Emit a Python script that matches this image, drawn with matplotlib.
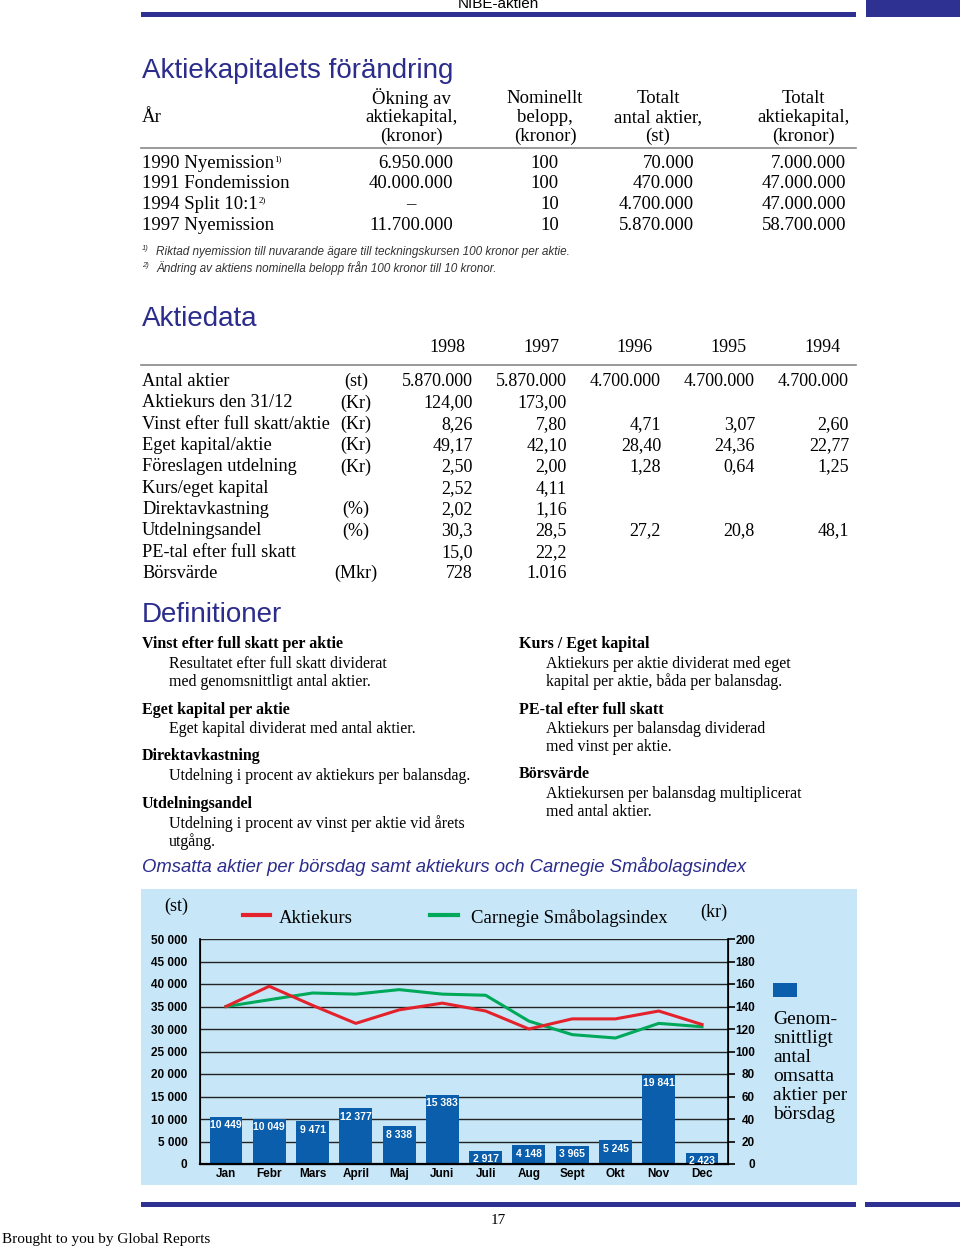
import matplotlib
matplotlib.use("Agg")
import matplotlib.pyplot as plt
from matplotlib.patches import Rectangle

W, H = 960, 1246

# --- data ---------------------------------------------------------------
kap_header = ["År", "Ökning av\naktiekapital,\n(kronor)", "Nominellt\nbelopp,\n(kronor)",
              "Totalt\nantal aktier,\n(st)", "Totalt\naktiekapital,\n(kronor)"]
kap_event = ["1990 Nyemission", "1991 Fondemission", "1994 Split 10:1", "1997 Nyemission"]
kap_note = ["1)", "", "2)", ""]
kap_okning = ["6.950.000", "40.000.000", "–", "11.700.000"]
kap_nominellt = ["100", "100", "10", "10"]
kap_antal = ["70.000", "470.000", "4.700.000", "5.870.000"]
kap_total = ["7.000.000", "47.000.000", "47.000.000", "58.700.000"]
footnotes = ["Riktad nyemission till nuvarande ägare till teckningskursen 100 kronor per aktie.",
             "Ändring av aktiens nominella belopp från 100 kronor till 10 kronor."]

years = ["1998", "1997", "1996", "1995", "1994"]
ad_labels = ["Antal aktier", "Aktiekurs den 31/12", "Vinst efter full skatt/aktie",
             "Eget kapital/aktie", "Föreslagen utdelning", "Kurs/eget kapital",
             "Direktavkastning", "Utdelningsandel", "PE-tal efter full skatt", "Börsvärde"]
ad_units = ["(st)", "(Kr)", "(Kr)", "(Kr)", "(Kr)", "", "(%)", "(%)", "", "(Mkr)"]
ad_values = [
    ["5.870.000", "5.870.000", "4.700.000", "4.700.000", "4.700.000"],
    ["124,00", "173,00", "", "", ""],
    ["8,26", "7,80", "4,71", "3,07", "2,60"],
    ["49,17", "42,10", "28,40", "24,36", "22,77"],
    ["2,50", "2,00", "1,28", "0,64", "1,25"],
    ["2,52", "4,11", "", "", ""],
    ["2,02", "1,16", "", "", ""],
    ["30,3", "28,5", "27,2", "20,8", "48,1"],
    ["15,0", "22,2", "", "", ""],
    ["728", "1.016", "", "", ""],
]

def_left = [("Vinst efter full skatt per aktie", ["Resultatet efter full skatt dividerat",
                                                  "med genomsnittligt antal aktier."]),
            ("Eget kapital per aktie", ["Eget kapital dividerat med antal aktier."]),
            ("Direktavkastning", ["Utdelning i procent av aktiekurs per balansdag."]),
            ("Utdelningsandel", ["Utdelning i procent av vinst per aktie vid årets", "utgång."])]
def_right = [("Kurs / Eget kapital", ["Aktiekurs per aktie dividerat med eget",
                                      "kapital per aktie, båda per balansdag."]),
             ("PE-tal efter full skatt", ["Aktiekurs per balansdag dividerad",
                                          "med vinst per aktie."]),
             ("Börsvärde", ["Aktiekursen per balansdag multiplicerat", "med antal aktier."])]

months = ["Jan", "Febr", "Mars", "April", "Maj", "Juni", "Juli", "Aug", "Sept", "Okt", "Nov", "Dec"]
omsatta = [10449, 10049, 9471, 12377, 8338, 15383, 2917, 4148, 3965, 5245, 19841, 2423]
aktiekurs = [140, 158, 141, 125, 137, 143, 136, 120, 129, 129, 136, 124]
carnegie = [140, 146, 152, 151, 155, 151, 150, 127, 115, 112, 125, 122]

NAVY = "#2e3192"
HEAD = "#2b2c8c"
PANEL = "#c7e7f9"
BAR = "#0a5eab"
RED = "#e3222b"
GREEN = "#00a859"
SERIF = "Liberation Serif"
SANS = "Liberation Sans"

fig = plt.figure(figsize=(W / 100, H / 100), dpi=100)
renderer = fig.canvas.get_renderer()


def txt(x, y, s, size=13, ha="left", va="center", family=SERIF, **kw):
    # x, y in pixels from the top-left corner of the page
    return fig.text(x / W, 1 - (y + 1.5) / H, s, fontsize=size, ha=ha, va=va, family=family, **kw)


def hline(x0, x1, y, lw=1.0, color="#888888"):
    fig.add_artist(plt.Line2D([x0 / W, x1 / W], [1 - y / H, 1 - y / H], lw=lw, color=color))


def rect(x0, y0, x1, y1, color):
    fig.add_artist(Rectangle((x0 / W, 1 - y1 / H), (x1 - x0) / W, (y1 - y0) / H,
                             facecolor=color, edgecolor="none", zorder=0))


# page frame
rect(141, 12, 856, 17, NAVY)
rect(866, 0, 960, 17, NAVY)
txt(498, 2, "NIBE-aktien", size=11, ha="center", family=SANS)
rect(141, 1202, 856, 1207, NAVY)
rect(865, 1202, 960, 1207, NAVY)
txt(498, 1219, "17", size=11, ha="center")
txt(2, 1238, "Brought to you by Global Reports", size=11)

# --- Aktiekapitalets förändring -----------------------------------------
txt(142, 70, "Aktiekapitalets förändring", size=20, family=SANS, color=HEAD)
txt(142, 116, kap_header[0], size=13.5)
for cx, h in zip([411, 545, 658, 803], kap_header[1:]):
    for k, line in enumerate(h.split("\n")):
        txt(cx, 97 + 19 * k, line, size=13.5, ha="center")
hline(141, 856, 148, lw=1.2)
for i in range(len(kap_event)):
    y = 162 + 20.5 * i
    t = txt(142, y, kap_event[i], size=13.5)
    if kap_note[i]:
        x_end = t.get_window_extent(renderer).x1
        txt(x_end + 0.5, y - 4, kap_note[i], size=6.5)
    if kap_okning[i] == "–":
        txt(411, y, kap_okning[i], size=13.5, ha="center")
    else:
        txt(453, y, kap_okning[i], size=13.5, ha="right")
    txt(559, y, kap_nominellt[i], size=13.5, ha="right")
    txt(694, y, kap_antal[i], size=13.5, ha="right")
    txt(846, y, kap_total[i], size=13.5, ha="right")
for k, note in enumerate(footnotes):
    y = 250 + 17 * k
    txt(142, y - 3, f"{k + 1})", size=5.5, style="italic", family=SANS, color="#333333")
    txt(156, y, note, size=8.5, style="italic", family=SANS, color="#333333")

# --- Aktiedata ----------------------------------------------------------
txt(142, 318, "Aktiedata", size=20, family=SANS, color=HEAD)
for j, yr in enumerate(years):
    txt(465 + 94 * j, 346, yr, size=13, ha="right")
hline(141, 856, 365, lw=1.2)
for i, lab in enumerate(ad_labels):
    y = 380 + 21.35 * i
    txt(142, y, lab, size=13.2)
    txt(356, y, ad_units[i], size=13, ha="center")
    for j, v in enumerate(ad_values[i]):
        txt(473 + 94 * j, y, v, size=13, ha="right")

# --- Definitioner -------------------------------------------------------
txt(142, 613, "Definitioner", size=20, family=SANS, color=HEAD)


def defs(x, y, items, gaps):
    for (head, body), gap in zip(items, gaps):
        txt(x, y, head, size=11.5, weight="bold")
        for k, line in enumerate(body):
            txt(x + 27, y + 19.5 + 18 * k, line, size=11.5)
        y += gap


defs(142, 643, def_left, [65, 47, 48, 0])
defs(519, 643, def_right, [65, 65, 0])

txt(142, 865, "Omsatta aktier per börsdag samt aktiekurs och Carnegie Småbolagsindex",
    size=13.3, style="italic", family=SANS, color=HEAD)

# --- chart --------------------------------------------------------------
rect(141, 889, 857, 1185, PANEL)

ax = fig.add_axes([200 / W, 1 - 1164 / H, 528 / W, 225 / H])
ax.set_facecolor("none")
x = list(range(len(months)))
bars = ax.bar(x, omsatta, width=0.76, color=BAR, zorder=2)
for b, v in zip(bars, omsatta):
    ax.annotate(f"{v:,}".replace(",", " "), (b.get_x() + b.get_width() / 2, v),
                xytext=(0, -6), textcoords="offset points", ha="center", va="center",
                color="white", fontsize=7.5, weight="bold", family=SANS, zorder=3)
ax.set_xlim(-0.6, 11.6)
ax.set_ylim(0, 50000)
ax.set_yticks(range(0, 50001, 5000))
ax.set_yticklabels([f"{v:,}".replace(",", " ") for v in range(0, 50001, 5000)])
ax.set_xticks(x)
ax.set_xticklabels(months)
ax.grid(axis="y", color="#222222", lw=1.0, zorder=1)
ax.set_axisbelow(True)
ax.spines["top"].set_visible(False)
ax.spines["bottom"].set_linewidth(1.6)
ax.spines["left"].set_linewidth(1.2)
ax.tick_params(axis="x", length=0, pad=3)
ax.tick_params(axis="y", length=0, pad=9)
for lab in ax.get_xticklabels() + ax.get_yticklabels():
    lab.set_fontsize(8.5)
    lab.set_fontweight("bold")
    lab.set_family(SANS)

ax2 = ax.twinx()
ax2.plot(x, carnegie, color=GREEN, lw=2.2, zorder=4)
ax2.plot(x, aktiekurs, color=RED, lw=2.2, zorder=5)
ax2.set_ylim(0, 200)
ax2.set_yticks(range(0, 201, 20))
ax2.spines["top"].set_visible(False)
ax2.spines["right"].set_linewidth(1.2)
ax2.tick_params(axis="y", length=5, width=1.2, direction="out", pad=14.5)
for lab in ax2.get_yticklabels():
    lab.set_fontsize(8.5)
    lab.set_fontweight("bold")
    lab.set_family(SANS)
    lab.set_horizontalalignment("right")

txt(176, 905, "(st)", size=13, ha="center")
txt(714, 911, "(kr)", size=13, ha="center")
hline(243, 270, 915, lw=3, color=RED)
txt(279, 917, "Aktiekurs", size=13.5)
hline(430, 458, 915, lw=3, color=GREEN)
txt(471, 917, "Carnegie Småbolagsindex", size=13.5)
rect(773, 983, 797, 997, BAR)
for k, line in enumerate(["Genom-", "snittligt", "antal", "omsatta", "aktier per", "börsdag"]):
    txt(773, 1018 + 19 * k, line, size=14)

fig.savefig("out.png", dpi=100)
